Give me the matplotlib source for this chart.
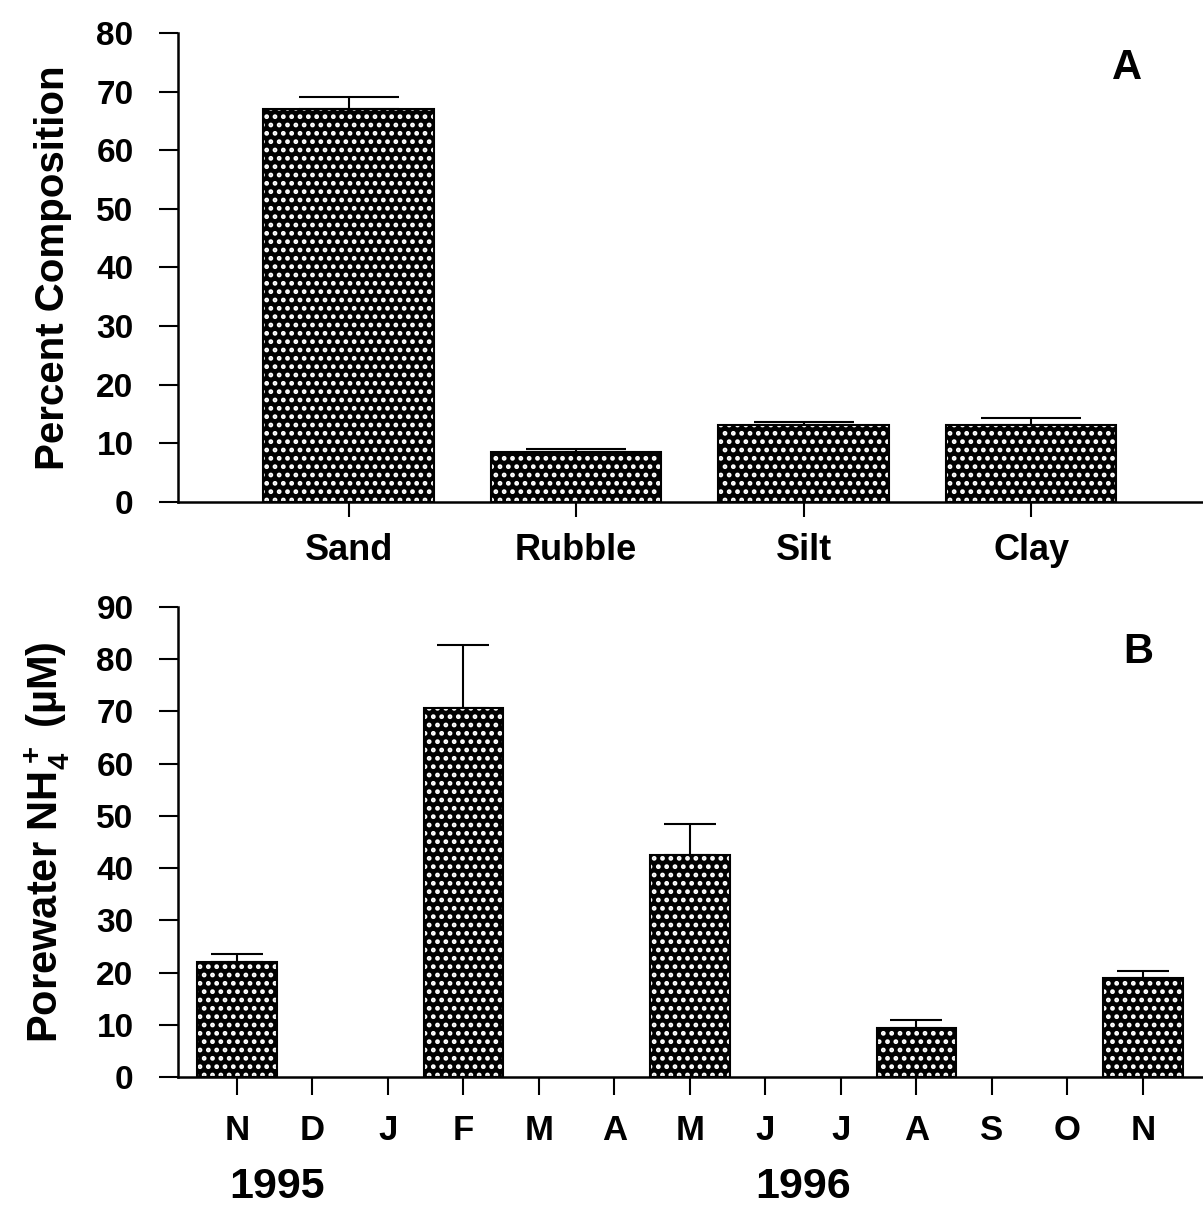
import numpy as np
import matplotlib
matplotlib.use('Agg')
import matplotlib.pyplot as plt

plt.rcParams['font.family'] = ['Liberation Sans', 'DejaVu Sans']
plt.rcParams['font.weight'] = 'bold'
plt.rcParams['mathtext.fontset'] = 'custom'
plt.rcParams['mathtext.rm'] = 'Liberation Sans:bold'
plt.rcParams['mathtext.default'] = 'rm'
plt.rcParams['hatch.linewidth'] = 2.2

# panel A: sediment composition
comp_labels = ['Sand', 'Rubble', 'Silt', 'Clay']
comp_mean = [67.1, 8.5, 13.1, 13.1]
comp_err = [2.0, 0.6, 0.6, 1.3]

# panel B: porewater NH4+ by month (nan = not sampled)
months = ['N', 'D', 'J', 'F', 'M', 'A', 'M', 'J', 'J', 'A', 'S', 'O', 'N']
nh4_mean = [22.0, np.nan, np.nan, 70.6, np.nan, np.nan, 42.6, np.nan, np.nan, 9.3, np.nan, np.nan, 18.9]
nh4_err = [1.5, np.nan, np.nan, 12.2, np.nan, np.nan, 5.9, np.nan, np.nan, 1.7, np.nan, np.nan, 1.4]


def dotted_bars(ax, x, h, w):
    ax.bar(x, h, width=w, color='black', edgecolor='white', hatch='..', linewidth=0, zorder=2)
    ax.bar(x, h, width=w, fill=False, edgecolor='black', linewidth=1.5, zorder=3)


def style(ax):
    ax.spines['top'].set_visible(False)
    ax.spines['right'].set_visible(False)
    ax.spines['left'].set_linewidth(1.8)
    ax.spines['bottom'].set_linewidth(1.8)
    ax.tick_params(axis='y', direction='out', length=14, width=1.5, pad=18, labelsize=24)
    for lab in ax.get_yticklabels():
        lab.set_fontweight('bold')


fig = plt.figure(figsize=(12.03, 12.09), dpi=100)

# ---- A
axA = fig.add_axes([0.148, 0.5848, 0.851, 0.3879])
xa = np.arange(len(comp_labels))
axA.errorbar(xa, comp_mean, yerr=[np.zeros(len(xa)), comp_err], fmt='none',
             ecolor='black', elinewidth=1.5, capsize=36, capthick=1.5, zorder=1)
dotted_bars(axA, xa, comp_mean, 0.75)
axA.set_xlim(-0.75, 3.75)
axA.set_ylim(0, 80)
axA.set_yticks(np.arange(0, 81, 10))
axA.set_xticks(xa)
axA.set_xticklabels(comp_labels, fontsize=26, fontweight='bold')
axA.tick_params(axis='x', direction='out', length=11, width=1.5, pad=11)
style(axA)
axA.set_ylabel('Percent Composition', fontsize=29, fontweight='bold')
axA.yaxis.set_label_coords(-0.104, 0.5)
axA.text(0.927, 0.925, 'A', transform=axA.transAxes, fontsize=30, fontweight='bold',
         ha='center', va='center')

# ---- B
axB = fig.add_axes([0.148, 0.1092, 0.851, 0.3887])
xb = np.arange(len(months))
mb = np.array(nh4_mean)
eb = np.array(nh4_err)
ok = ~np.isnan(mb)
axB.errorbar(xb[ok], mb[ok], yerr=[np.zeros(ok.sum()), eb[ok]], fmt='none',
             ecolor='black', elinewidth=1.5, capsize=19, capthick=1.5, zorder=1)
dotted_bars(axB, xb[ok], mb[ok], 1.05)
axB.set_xlim(-0.78, 12.78)
axB.set_ylim(0, 90)
axB.set_yticks(np.arange(0, 91, 10))
axB.set_xticks(xb)
axB.set_xticklabels(months, fontsize=25, fontweight='bold')
axB.tick_params(axis='x', direction='out', length=13, width=1.5, pad=14)
style(axB)
axB.set_ylabel('Porewater NH$_4^+$ (µM)', fontsize=30, fontweight='bold')
axB.yaxis.set_label_coords(-0.104, 0.5)
axB.text(0.938, 0.904, 'B', transform=axB.transAxes, fontsize=30, fontweight='bold',
         ha='center', va='center')

# year labels under months
axB.text(0.53, -0.235, '1995', transform=axB.get_xaxis_transform(), fontsize=31,
         fontweight='bold', ha='center', va='center')
axB.text(7.5, -0.235, '1996', transform=axB.get_xaxis_transform(), fontsize=31,
         fontweight='bold', ha='center', va='center')

fig.savefig('out.png', dpi=100)
